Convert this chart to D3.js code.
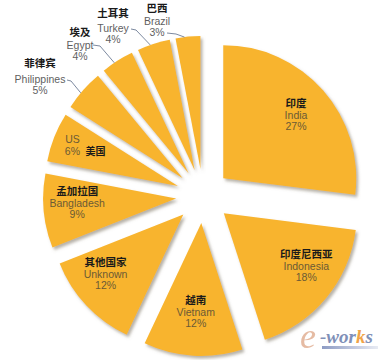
<!DOCTYPE html>
<html><head><meta charset="utf-8">
<script src="https://cdn.jsdelivr.net/npm/d3@7"></script>
<style>html,body{margin:0;padding:0;background:#fff;}svg{display:block;}</style>
</head><body>
<script>
const namesZh = ["印度","印度尼西亚","越南","其他国家","孟加拉国","美国","菲律宾","埃及","土耳其","巴西"];
const namesEn = ["India","Indonesia","Vietnam","Unknown","Bangladesh","US","Philippines","Egypt","Turkey","Brazil"];
const shares = [27,18,12,12,9,6,5,4,4,3];

const W=389,H=360;
const cx=203, cy=196, R=133, explode=27;
const fillColor="#F8B42E";

const svg=d3.select("body").append("svg").attr("width",W).attr("height",H);
const defs=svg.append("defs");
const f=defs.append("filter").attr("id","sh").attr("x","-20%").attr("y","-20%").attr("width","150%").attr("height","150%");
f.append("feDropShadow").attr("dx",2).attr("dy",2.5).attr("stdDeviation",1.6).attr("flood-color","#7a7060").attr("flood-opacity",0.55);

const data=namesEn.map((n,i)=>({en:n,zh:namesZh[i],v:shares[i]}));
const pie=d3.pie().sort(null).value(d=>d.v).startAngle(0).endAngle(2*Math.PI);
const arcs=pie(data);
const arc=d3.arc().innerRadius(0).outerRadius(R);
const pt=(a,r)=>[Math.sin(a)*r,-Math.cos(a)*r];

const g=svg.append("g").attr("transform",`translate(${cx},${cy})`);
arcs.forEach(a=>{
  const mid=(a.startAngle+a.endAngle)/2;
  const [ox,oy]=pt(mid,explode);
  a.ox=ox;a.oy=oy;a.mid=mid;
});
g.selectAll("path.slice").data(arcs).join("path")
  .attr("class","slice")
  .attr("transform",d=>`translate(${d.ox},${d.oy})`)
  .attr("d",arc).attr("fill",fillColor).attr("filter","url(#sh)");

// inside label placement: angle shift (deg) and radius from pie centre
const inside={
  "India":{da:0,r:124},
  "Indonesia":{da:-6,r:124},
  "Vietnam":{da:0,r:115},
  "Unknown":{da:5,r:124},
  "Bangladesh":{da:2.5,r:126},
  "US":{da:-1.5,r:139}
};
// outside label anchor (text block, relative to pie centre) and leader start
const outside={
  "Philippines":{x:-163,y:-119, gap:16, lx:[-136,-132], ly:-116},
  "Egypt":{x:-123,y:-153, gap:13, lx:[-110,-103], ly:-151},
  "Turkey":{x:-90,y:-170, gap:15, lx:[-72,-67], ly:-167},
  "Brazil":{x:-46,y:-177, gap:13, lx:[-36,-27], ly:-163}
};
const zhFont="'Noto Sans CJK SC', sans-serif";
const enFont="'Liberation Sans', Arial, sans-serif";
const lab=svg.append("g").attr("transform",`translate(${cx},${cy})`);

arcs.forEach(a=>{
  const d=a.data;
  if(inside[d.en]){
    const p=inside[d.en];
    const [x,y]=pt(a.mid+p.da*Math.PI/180,p.r);
    const t=lab.append("g").attr("transform",`translate(${x},${y})`);
    if(d.en==="US"){
      t.append("text").attr("x",0).attr("y",-5).attr("text-anchor","middle").attr("font-family",enFont).attr("font-size",10.5).attr("fill","#6b5a35").text(d.en);
      t.append("text").attr("x",0).attr("y",7).attr("text-anchor","middle").attr("font-family",enFont).attr("font-size",10.5).attr("fill","#6b5a35").text(d.v+"%");
      t.append("text").attr("x",13).attr("y",7).attr("text-anchor","start").attr("font-family",zhFont).attr("font-weight","bold").attr("font-size",10).attr("fill","#1a1a1a").text(d.zh);
    } else {
      t.append("text").attr("y",-7).attr("text-anchor","middle").attr("font-family",zhFont).attr("font-weight","bold").attr("font-size",10.5).attr("fill","#1a1a1a").text(d.zh);
      t.append("text").attr("y",5).attr("text-anchor","middle").attr("font-family",enFont).attr("font-size",10.5).attr("fill","#6b5a35").text(d.en);
      t.append("text").attr("y",16).attr("text-anchor","middle").attr("font-family",enFont).attr("font-size",10.5).attr("fill","#6b5a35").text(d.v+"%");
    }
  } else if(outside[d.en]){
    const p=outside[d.en];
    const t=lab.append("g").attr("transform",`translate(${p.x},${p.y})`);
    t.append("text").attr("y",6-p.gap).attr("text-anchor","middle").attr("font-family",zhFont).attr("font-weight","bold").attr("font-size",10.5).attr("fill","#1a1a1a").text(d.zh);
    t.append("text").attr("y",6).attr("text-anchor","middle").attr("font-family",enFont).attr("font-size",10.5).attr("fill","#5f5f5f").text(d.en);
    t.append("text").attr("y",17).attr("text-anchor","middle").attr("font-family",enFont).attr("font-size",10.5).attr("fill","#5f5f5f").text(d.v+"%");
    // leader line: from text end to the slice's outer arc
    const [ex,ey]=pt(a.mid-1.5*Math.PI/180,R);
    const end=[ex+a.ox,ey+a.oy];
    lab.append("path").attr("d",d3.line()([[p.lx[0],p.ly],[p.lx[1],p.ly+1],end]))
      .attr("fill","none").attr("stroke","#7d8aa0").attr("stroke-width",1);
  }
});

// e-works logo
const logo=svg.append("g").attr("transform","translate(300,327)");
const lg=defs.append("linearGradient").attr("id","ul");
lg.append("stop").attr("offset","0").attr("stop-color","#8e9cc4");
lg.append("stop").attr("offset","1").attr("stop-color","#e8ebf3");
logo.append("rect").attr("x",22).attr("y",19).attr("width",56).attr("height",3).attr("fill","url(#ul)");
logo.append("text").attr("x",0).attr("y",21).attr("font-family","'Liberation Serif', serif").attr("font-style","italic").attr("font-size",36).attr("fill","#e3b49a").attr("opacity",0.9).text("e");
const wt=logo.append("text").attr("x",20).attr("y",16).attr("font-family","'Liberation Serif', serif").attr("font-style","italic").attr("font-weight","bold").attr("font-size",19).attr("fill","#8090b8");
wt.append("tspan").text("-wor");
wt.append("tspan").attr("fill","#f0a448").text("k");
wt.append("tspan").text("s");
</script>
</body></html>
